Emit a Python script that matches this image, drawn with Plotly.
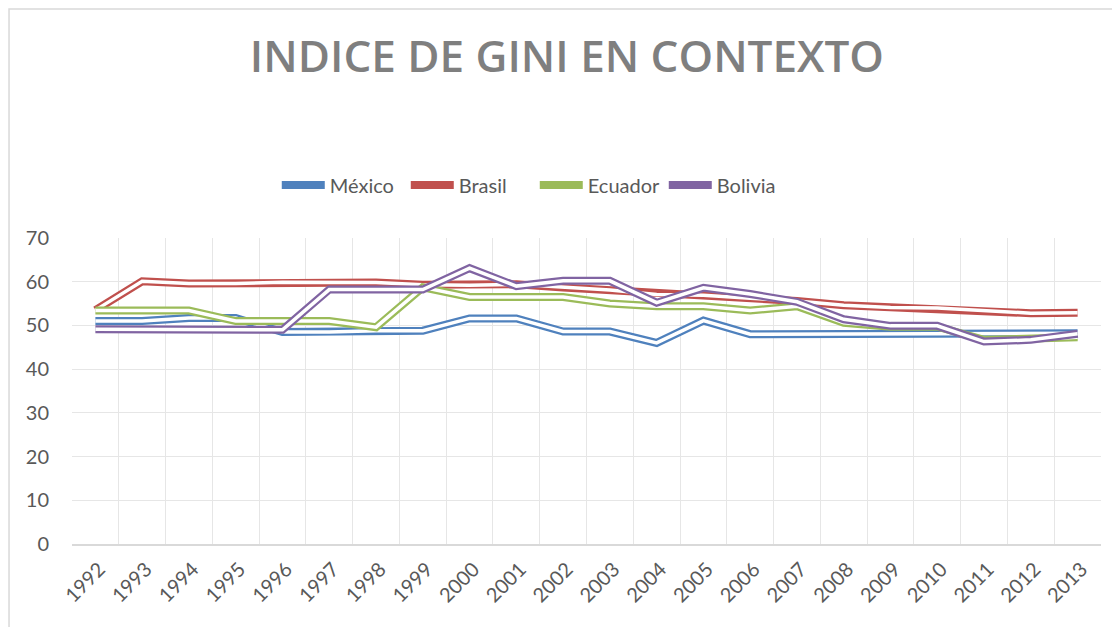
import plotly.graph_objects as go

# Gini index by country, 1992-2013
years = [str(y) for y in range(1992, 2014)]
mexico = [51.0, 51.0, 51.7, 51.7, 48.5, 48.5, 48.8, 48.8, 51.6, 51.6, 48.6,
          48.6, 46.0, 51.1, 48.0, 48.0, 48.1, 48.2, 48.2, 48.2, 48.2, 48.2]
brasil = [53.5, 60.1, 59.6, 59.6, 59.9, 59.9, 59.8, 59.3, 59.2, 59.4, 58.7,
          58.1, 57.1, 56.9, 56.2, 55.6, 54.6, 54.1, 54.0, 53.3, 52.8, 52.9]
ecuador = [53.4, 53.4, 53.4, 51.0, 51.0, 51.0, 49.6, 58.7, 56.5, 56.5, 56.5,
           55.0, 54.4, 54.4, 53.4, 54.4, 50.6, 49.7, 49.7, 46.7, 46.8, 47.3]
bolivia = [49.1, 49.1, 49.1, 49.1, 49.0, 58.2, 58.2, 58.2, 63.1, 59.0, 60.2,
           60.2, 55.2, 58.6, 57.2, 55.4, 51.4, 49.9, 49.9, 46.3, 46.7, 48.1]

series = [("México", mexico, "#4F81BD"),
          ("Brasil", brasil, "#C0504D"),
          ("Ecuador", ecuador, "#9BBB59"),
          ("Bolivia", bolivia, "#8064A2")]

text_col = "#595959"
font_name = "Lato"

fig = go.Figure()

# Excel-style "double" line: wide coloured stroke with a thin white core
for name, vals, col in series:
    fig.add_trace(go.Scatter(x=years, y=vals, name=name, mode="lines",
                             line=dict(color=col, width=8)))
    fig.add_trace(go.Scatter(x=years, y=vals, mode="lines", showlegend=False,
                             hoverinfo="skip",
                             line=dict(color="white", width=3.5)))

# page body adds an 8px offset, so margins are trimmed by that amount
fig.update_layout(
    width=1120, height=627,
    margin=dict(l=64, r=27, t=230, b=91),
    paper_bgcolor="white", plot_bgcolor="white",
    font=dict(family=font_name, color=text_col, size=20),
    title=dict(text="INDICE DE GINI EN CONTEXTO",
               x=0.499, xanchor="center", xref="container",
               y=0.923, yanchor="middle", yref="container",
               font=dict(family="Open Sans", size=44, weight=600,
                         color="#7F7F7F")),
    legend=dict(orientation="h", x=0.199, xanchor="left",
                y=1.173, yanchor="middle",
                font=dict(size=20, color=text_col),
                itemwidth=43,
                entrywidth=71, entrywidthmode="pixels",
                traceorder="normal"),
    showlegend=True,
)

fig.update_xaxes(type="category", range=[-0.5, 21.5], tickson="boundaries",
                 automargin=False,
                 showgrid=True, gridcolor="#E6E6E6", gridwidth=1,
                 showline=True, linecolor="#D9D9D9", linewidth=1.5,
                 ticks="", tickangle=-45,
                 ticklabelshift=4, ticklabelstandoff=4,
                 tickfont=dict(size=20, color=text_col))
fig.update_yaxes(range=[0, 70], dtick=10, showgrid=True, automargin=False,
                 gridcolor="#E6E6E6", gridwidth=1, zeroline=False,
                 showline=False, ticks="", ticklabelstandoff=22,
                 tickfont=dict(size=20, color=text_col))

# outer chart border (left and top edges visible in the reference)
fig.add_shape(type="rect", xref="paper", yref="paper",
              x0=-0.0612, x1=1.05, y0=-0.35, y1=1.748,
              line=dict(color="#D9D9D9", width=1.5), layer="below")

fig.write_html("out.html")
